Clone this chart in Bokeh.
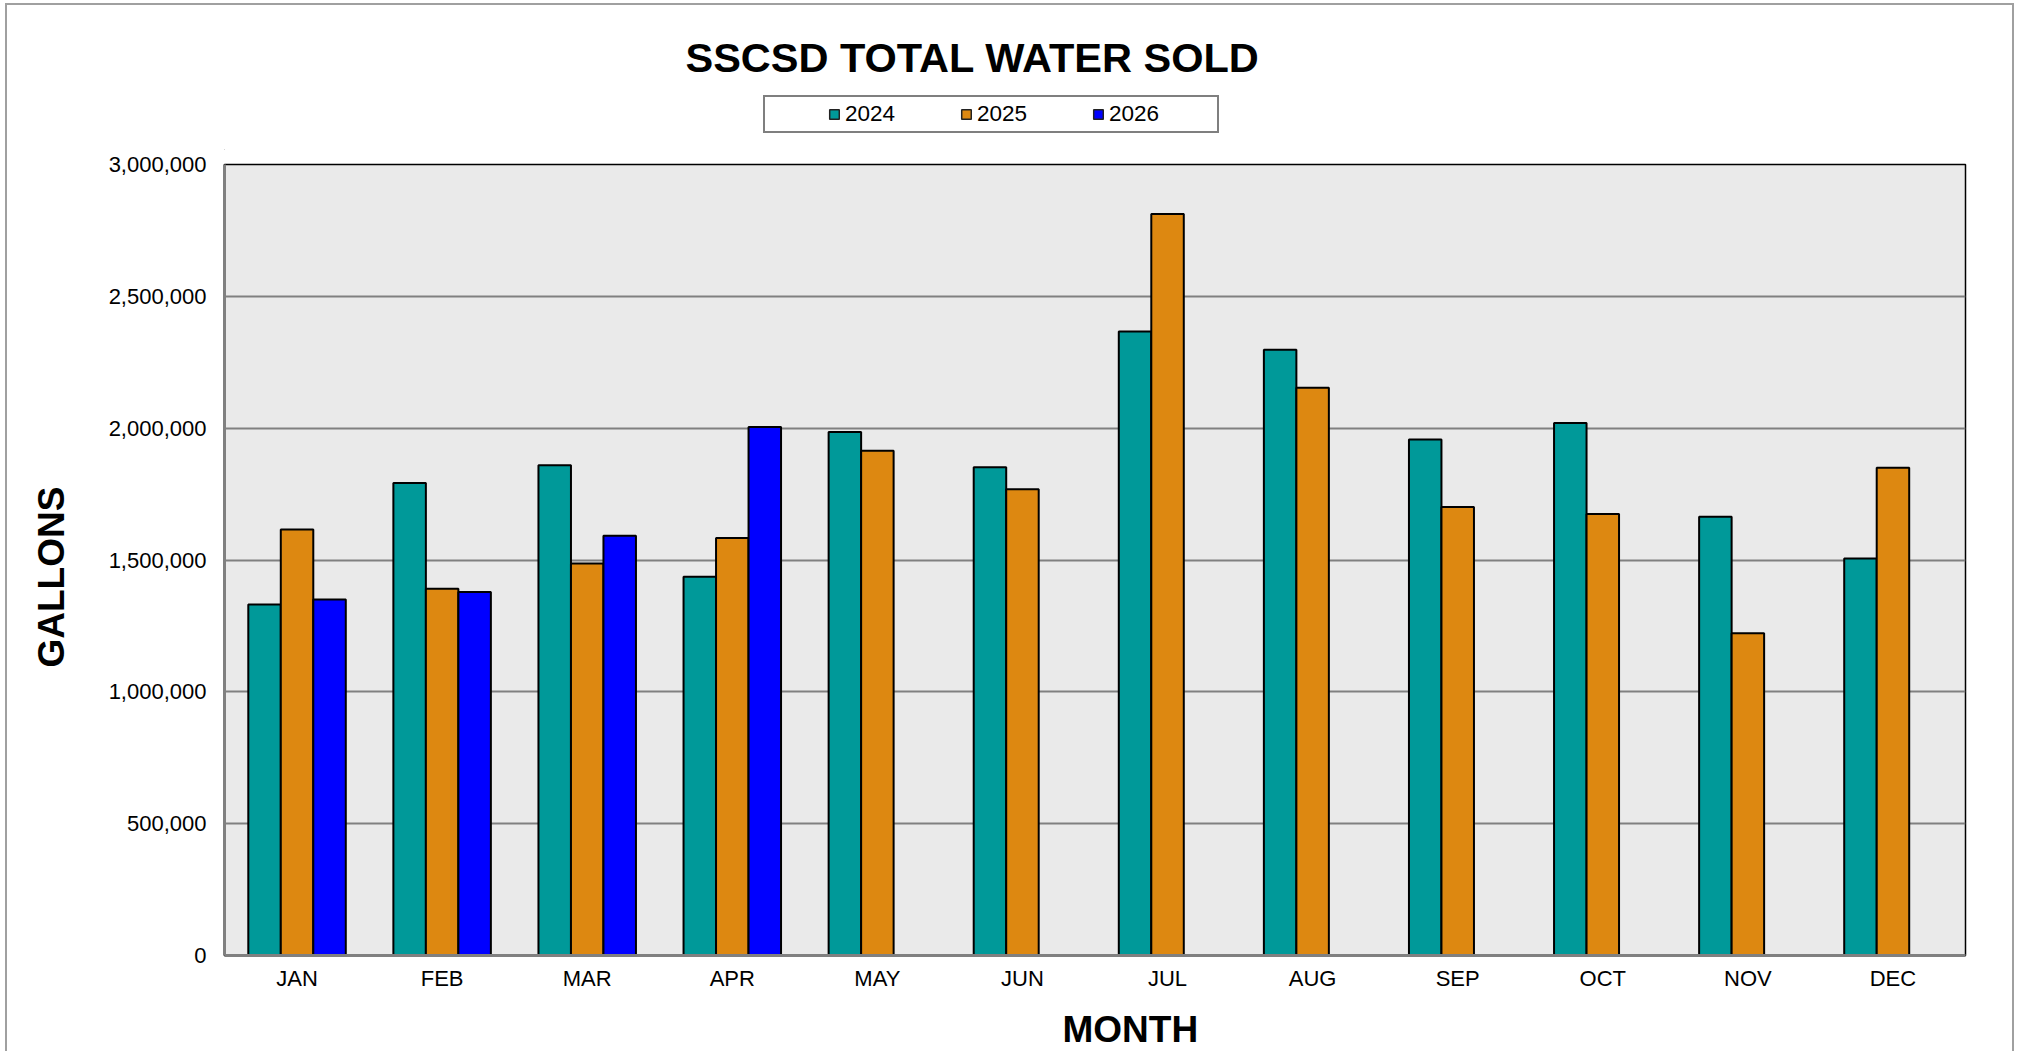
from bokeh.plotting import figure
from bokeh.layouts import column
from bokeh.models import (ColumnDataSource, FixedTicker, NumeralTickFormatter, Legend,
                          LegendItem, Title, LinearAxis, Range1d, Label)
from bokeh.transform import dodge
from bokeh.embed import file_html
from bokeh.resources import INLINE

months = ["JAN", "FEB", "MAR", "APR", "MAY", "JUN", "JUL", "AUG", "SEP", "OCT", "NOV", "DEC"]
gal_2024 = [1331000, 1792000, 1859000, 1436000, 1985000, 1852000, 2367000, 2297000, 1957000, 2020000, 1664000, 1506000]
gal_2025 = [1616000, 1391000, 1487000, 1583000, 1914000, 1768000, 2812000, 2153000, 1701000, 1674000, 1222000, 1850000]
gal_2026 = [1350000, 1379000, 1592000, 2004000]
years = ["2024", "2025", "2026"]
y_ticks = [0, 500000, 1000000, 1500000, 2000000, 2500000, 3000000]

colors = {"2024": "#009999", "2025": "#DD8811", "2026": "#0000FF"}
FONT = "Liberation Sans"

W, H = 2012, 1051
TOP_H = 150
FL, FR, FT, FB = 224, 1965, 164, 955  # frame edges in page px

# ---------------- header figure (title + legend) ----------------
# (its frame is aligned by the column layout with the chart frame below)
top = figure(width=W, height=TOP_H, output_backend="svg", toolbar_location=None,
             x_range=Range1d(0, 1), y_range=Range1d(0, 1),
             x_axis_location=None, y_axis_location=None,
             min_border_left=FL, min_border_right=W - FR,
             min_border_top=0, min_border_bottom=0)
top.title.text = ""
top.outline_line_color = None
top.background_fill_color = "white"
top.border_fill_color = "white"
top.xgrid.visible = False
top.ygrid.visible = False

top.add_layout(Label(x=972 - FL, y=TOP_H - 57, x_units="screen", y_units="screen",
                     text="SSCSD TOTAL WATER SOLD", text_font=FONT, text_font_size="41.5px",
                     text_font_style="bold", text_color="black",
                     text_align="center", text_baseline="middle"))

# legend swatches: same styling as the bars, kept outside the header's visible range
swatches = [top.vbar(x=[-5], top=[0], width=0.001, fill_color=colors[y], line_color="#222222",
                     line_width=1.5) for y in years]
legend = Legend(items=[LegendItem(label=y, renderers=[r]) for y, r in zip(years, swatches)],
                orientation="horizontal", location=(763 - FL, TOP_H - 133),
                padding=4, margin=0, spacing=11, glyph_width=12, glyph_height=12,
                label_standoff=5, label_width=104, label_height=20,
                label_text_font=FONT, label_text_font_size="22.5px", label_text_color="black",
                title=" ", title_location="left", title_standoff=33,
                title_text_font_size="22px",
                border_line_color="black", border_line_width=2,
                background_fill_color="white", background_fill_alpha=1.0)
top.add_layout(legend, "center")

# ---------------- main chart ----------------
MH = H - TOP_H
p = figure(width=W, height=MH, output_backend="svg", toolbar_location=None,
           x_range=Range1d(0, 12), y_range=Range1d(0, 3000000),
           min_border_left=FL, min_border_right=W - FR,
           min_border_top=FT - TOP_H, min_border_bottom=H - FB)
p.title.text = ""
p.background_fill_color = "#EAEAEA"
p.border_fill_color = "white"
p.outline_line_color = "black"
p.outline_line_width = 1.5

centers = [i + 0.5 for i in range(len(months))]
src24 = ColumnDataSource(dict(x=centers, top=gal_2024))
src25 = ColumnDataSource(dict(x=centers, top=gal_2025))
src26 = ColumnDataSource(dict(x=centers[:len(gal_2026)], top=gal_2026))

bw = 0.224
p.vbar(x=dodge("x", -bw, range=p.x_range), top="top", width=bw, source=src24,
       fill_color=colors["2024"], line_color="black", line_width=2)
p.vbar(x=dodge("x", 0, range=p.x_range), top="top", width=bw, source=src25,
       fill_color=colors["2025"], line_color="black", line_width=2)
p.vbar(x=dodge("x", bw, range=p.x_range), top="top", width=bw, source=src26,
       fill_color=colors["2026"], line_color="black", line_width=2)

p.xaxis.ticker = FixedTicker(ticks=centers)
p.xaxis.major_label_overrides = {c: m for c, m in zip(centers, months)}
p.yaxis.ticker = FixedTicker(ticks=y_ticks)
p.yaxis.formatter = NumeralTickFormatter(format="0,0")
for ax in (p.xaxis, p.yaxis):
    ax.major_tick_line_color = None
    ax.minor_tick_line_color = None
    ax.major_tick_out = 0
    ax.major_tick_in = 0
    ax.minor_tick_out = 0
    ax.minor_tick_in = 0
    ax.major_label_text_font = FONT
    ax.major_label_text_font_size = "22px"
    ax.major_label_text_color = "black"
    ax.axis_line_color = "#808080"
    ax.axis_line_width = 3
p.xaxis.major_label_standoff = 10
p.yaxis.major_label_standoff = 18

p.xgrid.grid_line_color = None
p.ygrid.grid_line_color = "#808080"
p.ygrid.grid_line_width = 2


def spacer(size, tick):
    return LinearAxis(ticker=FixedTicker(ticks=[tick]), major_label_overrides={tick: ""},
                      major_tick_out=size, major_tick_in=0,
                      minor_tick_out=0, minor_tick_in=0, axis_line_color=None,
                      major_tick_line_color=None, minor_tick_line_color=None,
                      major_label_standoff=0, major_label_text_font_size="0px")


# below: x axis, spacer, MONTH
p.add_layout(spacer(15, 6), "below")
p.add_layout(Title(text="MONTH", text_font=FONT, text_font_size="37px",
                   text_font_style="bold", text_color="black", align="left",
                   offset=1062 - FL, standoff=0, vertical_align="top"), "below")

# left: y axis, spacer, GALLONS
p.add_layout(spacer(34, 1500000), "left")
p.add_layout(Title(text="GALLONS", text_font=FONT, text_font_size="37px",
                   text_font_style="bold", text_color="black", align="left",
                   offset=FB - 667, standoff=0, vertical_align="bottom"), "left")

frame_css = (":host::after{content:'';position:absolute;left:5px;top:3px;width:2005px;"
             "height:1060px;border:2px solid #A0A0A0;pointer-events:none;z-index:10;}")
layout = column(top, p, spacing=0, stylesheets=[frame_css])
open("out.html", "w").write(file_html(layout, INLINE))
